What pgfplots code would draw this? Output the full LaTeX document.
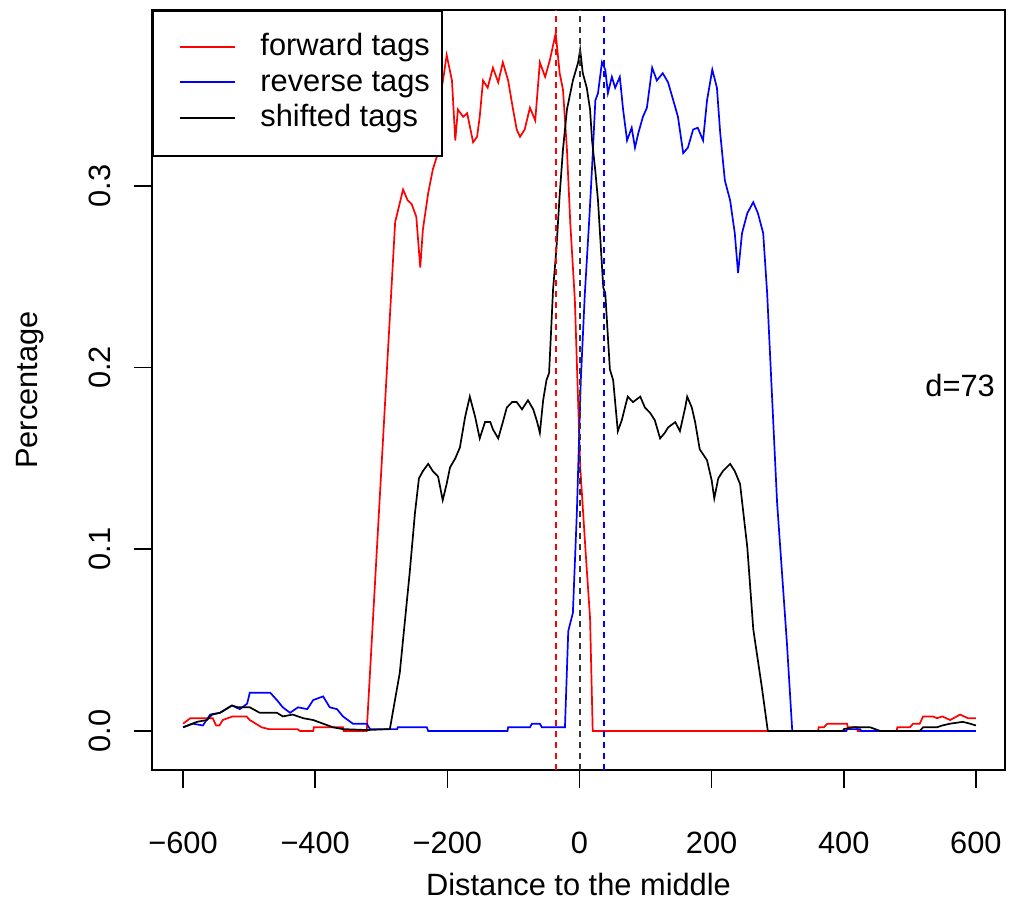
\documentclass[border=0pt]{standalone}
\usepackage{fontspec}
\setmainfont{Liberation Sans}
\usepackage{pgfplots}
\pgfplotsset{compat=1.18}
\newcommand{\rfont}{\fontsize{15.4}{18}\selectfont}

\begin{document}
\begin{tikzpicture}
\begin{axis}[name=ax, scale only axis, width=426.5pt, height=380pt,
    xmin=-647, xmax=644, ymin=-0.0215, ymax=0.3968,
    axis line style={line width=0.8pt},
    tick align=outside, xtick pos=bottom, ytick pos=left,
    major tick length=9pt, tick style={line width=0.8pt, black},
    xtick={-600,-400,...,600}, xticklabels={−600,−400,−200,0,200,400,600},
    ytick={0,0.1,0.2,0.3}, yticklabels={0.0,0.1,0.2,0.3},
    tick label style={font=\rfont, inner sep=0pt},
    xticklabel style={anchor=center, yshift=-27.5pt},
    yticklabel style={xshift=-17pt, rotate=90, anchor=center},
    xlabel={Distance to the middle}, ylabel={Percentage},
    every axis x label/.style={at={(axis description cs:0.5,-0.15)}, anchor=center, inner sep=0pt, font=\rfont},
    every axis y label/.style={at={(axis description cs:-0.143,0.5)}, rotate=90, anchor=center, inner sep=0pt, font=\rfont},
    legend cell align=left,
    legend style={at={(0,1)}, anchor=north west, draw=black, line width=0.8pt, fill=white,
      inner xsep=6pt, inner ysep=11pt, font=\rfont, row sep=2.75pt,
      nodes={inner sep=0pt, text height=11.5pt, text depth=3.5pt},
      /tikz/every odd column/.append style={column sep=12.5pt}},
    legend image code/.code={\path (0pt,0pt); \draw[#1, line width=0.8pt] (7pt,0.5pt) -- (34.5pt,0.5pt);},
  ]
  % forward tags
  \addplot[red, line width=0.85pt] coordinates {
    (-600,0.004) (-589,0.007) (-555,0.007) (-550,0.003) (-545,0.003) (-540,0.006)
    (-525,0.008) (-504,0.008) (-499,0.006) (-490,0.004) (-481,0.002) (-470,0.001)
    (-427,0.001) (-423,0) (-403,0) (-402,0.002) (-358,0.002) (-357,0) (-322,0)
    (-279,0.280) (-267,0.298) (-260,0.292) (-254,0.290) (-247,0.283) (-241,0.255)
    (-237,0.276) (-229,0.296) (-222,0.309) (-216,0.316) (-211,0.350) (-207,0.357)
    (-201,0.372) (-193,0.358) (-188,0.325) (-184,0.342) (-176,0.338) (-170,0.340)
    (-161,0.324) (-155,0.327) (-151,0.338) (-146,0.358) (-139,0.354) (-131,0.365)
    (-123,0.357) (-116,0.368) (-108,0.358) (-101,0.343) (-95,0.331) (-90,0.327)
    (-83,0.331) (-75,0.343) (-67,0.336) (-60,0.368) (-52,0.360) (-45,0.369)
    (-36,0.384) (-30,0.362) (-25,0.353) (-19,0.320) (-14,0.280) (-7,0.237)
    (1,0.146) (9,0.100) (16,0.062) (20,0) (361,0) (362,0.002) (370,0.002)
    (375,0.004) (405,0.004) (406,0.002) (420,0.002) (421,0) (480,0) (481,0.002)
    (500,0.002) (505,0.004) (515,0.004) (520,0.008) (535,0.008) (541,0.007)
    (549,0.008) (561,0.006) (576,0.009) (588,0.007) (600,0.007)};
  \addlegendentry{forward tags}
  % reverse tags
  \addplot[blue, line width=0.85pt] coordinates {
    (-600,0.002) (-585,0.004) (-570,0.003) (-559,0.009) (-544,0.010) (-526,0.014)
    (-514,0.012) (-503,0.015) (-499,0.021) (-484,0.021) (-468,0.021) (-458,0.017)
    (-449,0.013) (-438,0.010) (-426,0.013) (-412,0.012) (-403,0.017) (-388,0.019)
    (-378,0.013) (-367,0.012) (-358,0.008) (-343,0.004) (-322,0.004) (-317,0.001)
    (-276,0.001) (-275,0.002) (-231,0.002) (-229,0) (-109,0) (-108,0.002)
    (-75,0.002) (-72,0.004) (-60,0.004) (-57,0.002) (-22,0.002) (-17,0.055)
    (-10,0.065) (-4,0.120) (2,0.193) (8,0.240) (15,0.283) (19,0.310) (24,0.347)
    (28,0.351) (34,0.368) (39,0.364) (43,0.351) (49,0.360) (54,0.354) (61,0.360)
    (66,0.342) (72,0.325) (79,0.332) (84,0.321) (89,0.329) (96,0.338) (102,0.343)
    (110,0.365) (117,0.358) (126,0.362) (134,0.357) (142,0.347) (149,0.338)
    (157,0.318) (164,0.321) (172,0.331) (179,0.332) (187,0.325) (193,0.347)
    (201,0.364) (208,0.354) (213,0.329) (220,0.303) (228,0.292) (235,0.274)
    (240,0.252) (246,0.274) (254,0.285) (263,0.291) (270,0.285) (278,0.274)
    (284,0.241) (299,0.126) (314,0.048) (322,0) (404,0) (405,0.001) (425,0.001)
    (426,0) (600,0)};
  \addlegendentry{reverse tags}
  % shifted tags
  \addplot[black, line width=0.85pt] coordinates {
    (-600,0.002) (-579,0.005) (-564,0.006) (-556,0.009) (-544,0.010) (-526,0.014)
    (-517,0.013) (-506,0.013) (-499,0.013) (-484,0.010) (-458,0.010) (-449,0.008)
    (-434,0.009) (-418,0.007) (-403,0.006) (-388,0.004) (-373,0.002) (-358,0.001)
    (-322,0.0005) (-287,0.001) (-272,0.032) (-257,0.087) (-249,0.120) (-243,0.139)
    (-237,0.143) (-229,0.147) (-222,0.143) (-214,0.140) (-207,0.127) (-201,0.136)
    (-196,0.145) (-188,0.150) (-181,0.156) (-173,0.173) (-166,0.184) (-158,0.173)
    (-151,0.161) (-143,0.170) (-135,0.170) (-131,0.166) (-123,0.161) (-116,0.170)
    (-110,0.178) (-102,0.181) (-95,0.181) (-87,0.177) (-78,0.182) (-70,0.177)
    (-64,0.170) (-60,0.164) (-55,0.182) (-50,0.193) (-46,0.197) (-40,0.243)
    (-35,0.265) (-30,0.295) (-25,0.320) (-19,0.342) (-10,0.358) (-2,0.368)
    (1,0.375) (5,0.362) (11,0.354) (16,0.342) (19,0.325) (24,0.308) (28,0.292)
    (36,0.244) (39,0.241) (46,0.199) (51,0.193) (58,0.165) (64,0.171) (73,0.184)
    (81,0.181) (92,0.184) (99,0.178) (107,0.175) (114,0.171) (122,0.161)
    (129,0.164) (134,0.167) (145,0.170) (152,0.165) (160,0.178) (163,0.184)
    (170,0.178) (175,0.170) (182,0.155) (193,0.149) (200,0.138) (204,0.128)
    (210,0.139) (217,0.143) (228,0.147) (235,0.143) (243,0.136) (254,0.101)
    (263,0.056) (276,0.024) (285,0) (399,0) (400,0.001) (414,0.002) (440,0.002)
    (455,0) (515,0) (520,0.002) (541,0.002) (549,0.003) (561,0.004) (580,0.005)
    (591,0.004) (600,0.003)};
  \addlegendentry{shifted tags}
  % peak positions, d = 73
  \addplot[red, line width=1pt, dash pattern=on 3pt off 2.5pt, forget plot]
    coordinates {(-36,-0.0215) (-36,0.3968)};
  \addplot[black!80, line width=1pt, dash pattern=on 3pt off 2.5pt, forget plot]
    coordinates {(0.3,-0.0215) (0.3,0.3968)};
  \addplot[blue, line width=1pt, dash pattern=on 3pt off 2.5pt, forget plot]
    coordinates {(36.5,-0.0215) (36.5,0.3968)};
  \node[font=\rfont] at (axis cs:576,0.190) {d=73};
\end{axis}
\path ([xshift=-76pt,yshift=-65.5pt]ax.south west) rectangle ([xshift=2pt,yshift=5pt]ax.north east);
\end{tikzpicture}
\end{document}
